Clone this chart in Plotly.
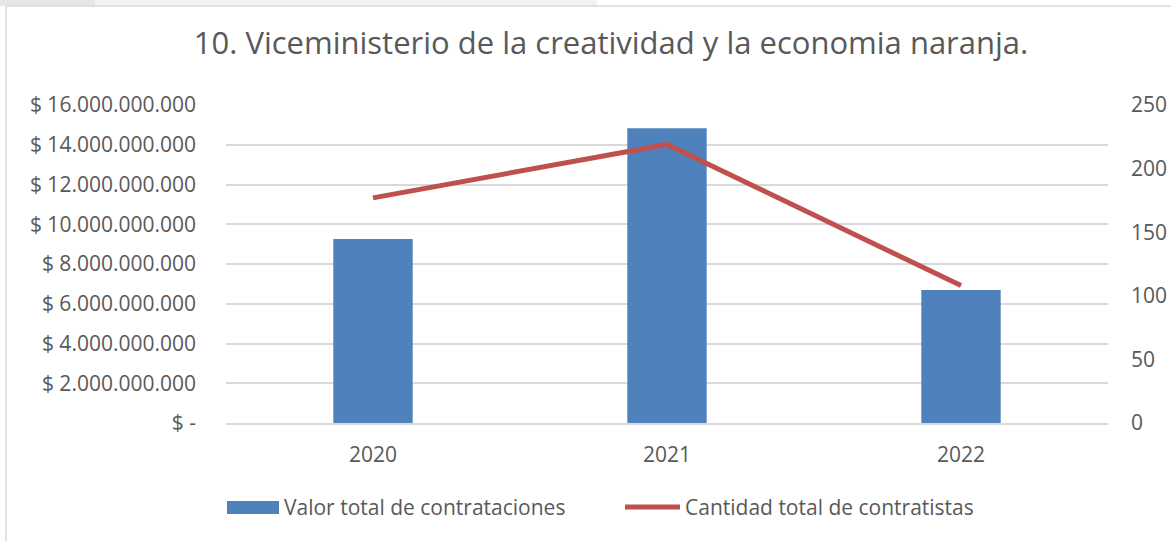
import plotly.graph_objects as go

years = ["2020", "2021", "2022"]
valor_total = [9.26e9, 14.83e9, 6.69e9]
cantidad_contratistas = [177, 219, 108]

left_tickvals = [0, 2e9, 4e9, 6e9, 8e9, 10e9, 12e9, 14e9, 16e9]
left_ticktext = ["$ -", "$ 2.000.000.000", "$ 4.000.000.000", "$ 6.000.000.000",
                 "$ 8.000.000.000", "$ 10.000.000.000", "$ 12.000.000.000",
                 "$ 14.000.000.000", "$ 16.000.000.000"]
right_tickvals = [0, 50, 100, 150, 200, 250]

W, H = 1171, 541
L, R, T, B = 226, 1108, 105, 423

def px(x):
    return (x - L) / (R - L)

def py(y):
    return (B - y) / (B - T)

FONT = "Open Sans"
GREY = "#595959"
BLUE = "#4F81BD"
RED = "#C0504D"

fig = go.Figure()
fig.add_trace(go.Bar(
    x=years, y=valor_total, name="Valor total de contrataciones",
    marker=dict(color=BLUE, line=dict(width=0)), yaxis="y", showlegend=False,
))
fig.add_trace(go.Scatter(
    x=years, y=cantidad_contratistas, name="Cantidad total de contratistas",
    mode="lines", line=dict(color=RED, width=5), yaxis="y2", showlegend=False,
))

shapes = [
    dict(type="rect", xref="paper", yref="paper", x0=px(0), x1=px(597), y0=py(6), y1=py(0),
         fillcolor="#F2F2F2", line=dict(width=0), layer="below"),
    dict(type="rect", xref="paper", yref="paper", x0=px(0), x1=px(95), y0=py(6), y1=py(0),
         fillcolor="#E6E6E6", line=dict(width=0), layer="below"),
    dict(type="line", xref="paper", yref="paper", x0=px(6), x1=px(1171), y0=py(6), y1=py(6),
         line=dict(color="#D9D9D9", width=1.5)),
    dict(type="line", xref="paper", yref="paper", x0=px(6), x1=px(6), y0=py(6), y1=py(541),
         line=dict(color="#D9D9D9", width=1.5)),
    dict(type="rect", xref="paper", yref="paper", x0=px(227), x1=px(279), y0=py(514), y1=py(501),
         fillcolor=BLUE, line=dict(width=0)),
    dict(type="line", xref="paper", yref="paper", x0=px(625), x1=px(680), y0=py(507), y1=py(507),
         line=dict(color=RED, width=5)),
]

annotations = [
    dict(text=fig.data[0].name, xref="paper", yref="paper", x=px(282), y=py(507),
         xanchor="left", yanchor="middle", showarrow=False,
         font=dict(family=FONT, size=21, color=GREY)),
    dict(text=fig.data[1].name, xref="paper", yref="paper", x=px(683), y=py(507),
         xanchor="left", yanchor="middle", showarrow=False,
         font=dict(family=FONT, size=21, color=GREY)),
]

fig.update_layout(
    width=W, height=H, autosize=False,
    margin=dict(l=L, r=W - R, t=T, b=H - B, pad=0, autoexpand=False),
    paper_bgcolor="white", plot_bgcolor="white",
    font=dict(family=FONT, color=GREY, size=21),
    title=dict(text="10. Viceministerio de la creatividad y la economia naranja.",
               x=611 / W, xanchor="center", y=1 - 43 / H, yanchor="middle",
               font=dict(family=FONT, size=31, color=GREY)),
    bargap=0.73,
    showlegend=False,
    xaxis=dict(showgrid=False, showline=True, linecolor="#D9D9D9", linewidth=1.5,
               ticks="", tickfont=dict(size=21, color=GREY), ticklabelstandoff=12,
               automargin=False),
    yaxis=dict(range=[0, 16e9], tickvals=left_tickvals, ticktext=left_ticktext,
               showgrid=True, gridcolor="#D9D9D9", gridwidth=1.5, zeroline=False,
               showline=False, ticks="", ticklabelstandoff=29, automargin=False,
               tickfont=dict(size=21, color=GREY)),
    yaxis2=dict(range=[0, 250], tickvals=right_tickvals, overlaying="y", side="right",
                showgrid=False, zeroline=False, showline=False, ticks="",
                ticklabelstandoff=22, automargin=False,
                tickfont=dict(size=21, color=GREY)),
    shapes=shapes,
    annotations=annotations,
)

fig.write_html("out.html", config={"displayModeBar": False},
               post_script="document.body.style.margin='0';document.body.style.overflow='hidden';")
